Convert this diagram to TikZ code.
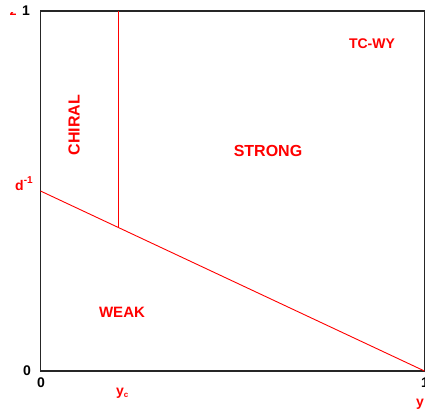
\documentclass[tikz,border=0pt]{standalone}
\usepackage{fontspec}
\setmainfont{Liberation Sans}
\begin{document}
\begin{tikzpicture}[x=1pt,y=-1pt,
  region/.style={text=red,font=\bfseries\fontsize{16}{18}\selectfont,inner sep=0pt},
  redlab/.style={text=red,font=\bfseries\fontsize{14}{16}\selectfont,inner sep=0pt},
  blacklab/.style={text=black,font=\bfseries\fontsize{14}{16}\selectfont,inner sep=0pt},
  frame/.style={draw=black!85,line width=1.1pt},
  curve/.style={draw=red,line width=0.9pt}]
\useasboundingbox (0,0) rectangle (425,415);
\clip (0,0) rectangle (425,415);
% box corners
\coordinate (tl) at (40.5,11);
\coordinate (tr) at (424.5,11);
\coordinate (bl) at (40.5,371);
\coordinate (br) at (424.5,371);
\coordinate (d) at (40.5,191);
\coordinate (ctop) at (118,11);
\coordinate (cbot) at (118,227.6);
\draw[frame] (bl) -- (tl) -- (tr) -- (br) -- cycle;
\draw[curve] (d) -- (br);
\draw[curve] (ctop) -- (cbot);
% labels
\node[blacklab] (one) at (26,11) {1};
\node[blacklab] (zero) at (27,371) {0};
\node[blacklab] (zerox) at (41,383) {0};
\node[blacklab,anchor=west] (onex) at (421,383) {1};
\node[redlab,anchor=base west] (dinv) at (15,190) {d\raisebox{0.45em}{\fontsize{10}{12}\selectfont -1}};
\node[redlab,anchor=base west] (yc) at (116,395) {y\raisebox{-0.15em}{\fontsize{8}{10}\selectfont c}};
\node[redlab] (y) at (420,404) {y};
\begin{scope}
\clip (0,12) rectangle (30,20);
\node[redlab,anchor=base] (z) at (13,15) {z};
\end{scope}
\node[region,font=\bfseries\fontsize{14}{16}\selectfont] (tcwy) at (372,44) {TC-WY};
\node[region,rotate=90] (chiral) at (74,125) {CHIRAL};
\node[region] (strong) at (268,151) {STRONG};
\node[region,font=\bfseries\fontsize{15}{17}\selectfont] (weak) at (122,312) {WEAK};
\end{tikzpicture}
\end{document}
